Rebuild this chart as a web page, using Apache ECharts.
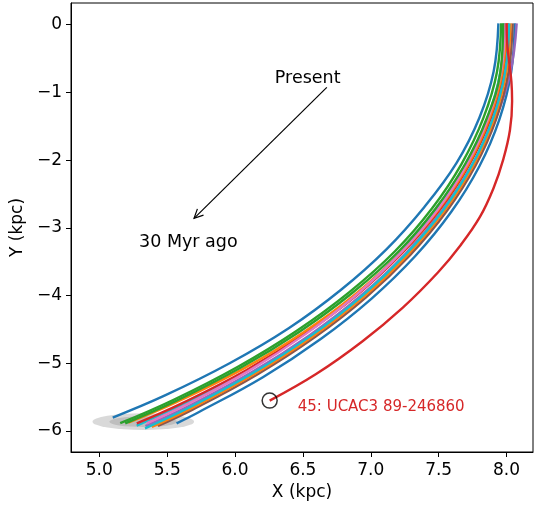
<!DOCTYPE html>
<html>
<head>
<meta charset="utf-8">
<script src="https://cdn.jsdelivr.net/npm/echarts@6/dist/echarts.min.js"></script>
<style>
  html, body { margin: 0; padding: 0; background: #ffffff; }
  #chart { width: 535px; height: 507px; }
</style>
</head>
<body>
<div id="chart"></div>
<script>
// Galactic orbits traced back 30 Myr, X/Y in kpc
const xTicks = [5.0, 5.5, 6.0, 6.5, 7.0, 7.5, 8.0];
const yTicks = [-6, -5, -4, -3, -2, -1, 0];

const orbitBlueUpper = [[7.940, 0.02], [7.905, -0.692], [7.800, -1.375], [7.631, -2.045], [7.395, -2.692], [7.115, -3.318], [6.781, -3.915], [6.398, -4.480], [5.960, -5.001], [5.480, -5.480], [5.099, -5.803]];
const orbitBlueLower = [[8.060, 0.02], [8.034, -0.703], [7.947, -1.401], [7.800, -2.090], [7.593, -2.764], [7.328, -3.417], [7.006, -4.045], [6.631, -4.643], [6.205, -5.207], [5.728, -5.728], [5.569, -5.889]];
const orbitPurple = [[8.075, 0.02], [8.029, -0.702], [7.918, -1.396], [7.747, -2.076], [7.527, -2.740], [7.255, -3.383], [6.928, -4.000], [6.549, -4.586], [6.121, -5.136], [5.646, -5.646], [5.340, -5.930]];
const orbitBrown = [[8.045, 0.02], [8.014, -0.701], [7.923, -1.397], [7.771, -2.082], [7.560, -2.752], [7.291, -3.400], [6.967, -4.023], [6.589, -4.614], [6.161, -5.170], [5.687, -5.687], [5.432, -5.928]];
const orbitCyanB = [[7.985, 0.02], [7.955, -0.696], [7.859, -1.386], [7.703, -2.064], [7.489, -2.726], [7.219, -3.366], [6.894, -3.980], [6.516, -4.563], [6.090, -5.110], [5.614, -5.614], [5.275, -5.921]];
const orbitOrangeB = [[8.030, 0.02], [7.999, -0.700], [7.908, -1.394], [7.756, -2.078], [7.544, -2.746], [7.275, -3.392], [6.951, -4.013], [6.574, -4.603], [6.146, -5.157], [5.672, -5.672], [5.387, -5.942]];
const orbitRedB = [[8.010, 0.02], [7.979, -0.698], [7.883, -1.390], [7.725, -2.070], [7.508, -2.733], [7.232, -3.372], [6.902, -3.985], [6.516, -4.563], [6.082, -5.104], [5.600, -5.600], [5.276, -5.888]];
const orbitCyan = [[8.020, 0.02], [7.989, -0.699], [7.898, -1.393], [7.745, -2.075], [7.532, -2.741], [7.261, -3.386], [6.937, -4.005], [6.560, -4.593], [6.132, -5.146], [5.659, -5.659], [5.337, -5.963]];
const orbitOrange = [[8.000, 0.02], [7.970, -0.697], [7.874, -1.388], [7.718, -2.068], [7.499, -2.729], [7.223, -3.368], [6.889, -3.978], [6.500, -4.551], [6.059, -5.084], [5.572, -5.572], [5.214, -5.879]];
const orbitPink = [[7.990, 0.02], [7.960, -0.696], [7.864, -1.387], [7.708, -2.065], [7.494, -2.728], [7.223, -3.368], [6.898, -3.983], [6.522, -4.567], [6.098, -5.117], [5.627, -5.627], [5.349, -5.888]];
const orbitGreenB = [[7.975, 0.02], [7.955, -0.696], [7.854, -1.385], [7.694, -2.061], [7.475, -2.721], [7.201, -3.358], [6.863, -3.963], [6.475, -4.534], [6.040, -5.068], [5.561, -5.561], [5.191, -5.888]];
const orbitGreen = [[7.960, 0.02], [7.930, -0.694], [7.829, -1.381], [7.669, -2.055], [7.452, -2.712], [7.178, -3.347], [6.842, -3.950], [6.455, -4.520], [6.021, -5.052], [5.544, -5.544], [5.154, -5.887]];

// Star 45, UCAC3 89-246860
const orbitStar45 = [[8.000, 0.02], [8.005, -0.280], [8.020, -0.561], [8.036, -0.845], [8.041, -1.130], [8.025, -1.560], [7.976, -1.989], [7.904, -2.416], [7.804, -2.840], [7.663, -3.253], [7.496, -3.656], [7.236, -4.178], [6.937, -4.679], [6.600, -5.156], [6.255, -5.553]];
const star45Name = '45: UCAC3 89-246860';

// Birth region: centre and two nested extents (x, y half-widths)
const birthCentre = [5.324, -5.864];
const birthExtents = [[0.374, 0.123], [0.250, 0.079]];

// Time-direction annotation
const arrowPresent = [6.676, -0.925];
const arrowPast = [5.698, -2.860];
const notePresent = { text: 'Present', at: [6.535, -0.792] };
const notePast = { text: '30 Myr ago', at: [5.656, -3.220] };
const star45LabelAt = [6.462, -5.643];

const FONT = 'DejaVu Sans';
const orbitStyle = (data, color) => ({
  type: 'line',
  data: data,
  smooth: 0.4,
  showSymbol: false,
  symbol: 'none',
  lineStyle: { color: color, width: 2.4 },
  z: 3,
  silent: true
});

const chart = echarts.init(document.getElementById('chart'), null, { renderer: 'canvas' });

chart.setOption({
  animation: false,
  backgroundColor: '#ffffff',
  grid: {
    left: 71, right: 2, top: 3, bottom: 55,
    show: true, borderColor: '#000000', borderWidth: 1, backgroundColor: 'transparent'
  },
  xAxis: {
    type: 'value', min: 4.7915, max: 8.195,
    name: 'X (kpc)', nameLocation: 'middle', nameGap: 32,
    nameTextStyle: { fontFamily: FONT, fontSize: 17, color: '#000' },
    axisLine: { show: true, onZero: false, lineStyle: { color: '#000', width: 1 } },
    axisTick: { show: true, inside: false, length: 5, customValues: xTicks, lineStyle: { color: '#000', width: 1 } },
    axisLabel: { customValues: xTicks, margin: 10, fontFamily: FONT, fontSize: 17, color: '#000',
      formatter: v => v.toFixed(1) },
    splitLine: { show: false }
  },
  yAxis: {
    type: 'value', min: -6.312, max: 0.3205,
    name: 'Y (kpc)', nameLocation: 'middle', nameGap: 43,
    nameTextStyle: { fontFamily: FONT, fontSize: 17, color: '#000' },
    axisLine: { show: true, onZero: false, lineStyle: { color: '#000', width: 1 } },
    axisTick: { show: true, inside: false, length: 5, customValues: yTicks, lineStyle: { color: '#000', width: 1 } },
    axisLabel: { customValues: yTicks, margin: 9, fontFamily: FONT, fontSize: 17, color: '#000',
      formatter: v => (v < 0 ? '\u2212' + Math.abs(v) : String(v)) },
    splitLine: { show: false }
  },
  series: [
    {
      // nested birth-region ellipses
      type: 'custom',
      data: birthExtents.map(e => [birthCentre[0], birthCentre[1], e[0], e[1]]),
      z: 1,
      silent: true,
      renderItem: function (params, api) {
        const c = api.coord([api.value(0), api.value(1)]);
        const s = api.size([api.value(2), api.value(3)]);
        return {
          type: 'circle',
          x: c[0], y: c[1],
          scaleX: 1, scaleY: s[1] / s[0],
          shape: { cx: 0, cy: 0, r: s[0] },
          style: { fill: 'rgba(128,128,128,0.3)' }
        };
      }
    },
    orbitStyle(orbitBlueUpper, '#1f77b4'),
    orbitStyle(orbitBlueLower, '#1f77b4'),
    orbitStyle(orbitPurple, '#9467bd'),
    orbitStyle(orbitBrown, '#8c564b'),
    orbitStyle(orbitCyanB, '#17becf'),
    orbitStyle(orbitOrangeB, '#ff7f0e'),
    orbitStyle(orbitRedB, '#d62728'),
    orbitStyle(orbitCyan, '#17becf'),
    orbitStyle(orbitOrange, '#ff7f0e'),
    orbitStyle(orbitPink, '#e377c2'),
    orbitStyle(orbitGreenB, '#2ca02c'),
    orbitStyle(orbitGreen, '#2ca02c'),
    orbitStyle(orbitStar45, '#d62728'),
    {
      // present-day marker of star 45
      type: 'scatter',
      data: [orbitStar45[orbitStar45.length - 1]],
      symbol: 'circle',
      symbolSize: 15,
      itemStyle: { color: 'rgba(0,0,0,0)', borderColor: '#000', borderWidth: 1.5 },
      z: 5,
      silent: true
    },
    {
      // arrow from "Present" toward "30 Myr ago"
      type: 'custom',
      data: [[arrowPresent[0], arrowPresent[1], arrowPast[0], arrowPast[1]]],
      z: 6,
      silent: true,
      renderItem: function (params, api) {
        const a = api.coord([api.value(0), api.value(1)]);
        const b = api.coord([api.value(2), api.value(3)]);
        const ang = Math.atan2(b[1] - a[1], b[0] - a[0]);
        const len = 10, spread = 0.45;
        const h1 = [b[0] - len * Math.cos(ang - spread), b[1] - len * Math.sin(ang - spread)];
        const h2 = [b[0] - len * Math.cos(ang + spread), b[1] - len * Math.sin(ang + spread)];
        return {
          type: 'group',
          children: [
            { type: 'line', shape: { x1: a[0], y1: a[1], x2: b[0], y2: b[1] },
              style: { stroke: '#000', lineWidth: 1.2 } },
            { type: 'polyline', shape: { points: [h1, b, h2] },
              style: { stroke: '#000', lineWidth: 1.2, fill: null } }
          ]
        };
      }
    },
    {
      // annotation texts
      type: 'custom',
      data: [
        [notePresent.at[0], notePresent.at[1], 0],
        [notePast.at[0], notePast.at[1], 1],
        [star45LabelAt[0], star45LabelAt[1], 2]
      ],
      z: 7,
      silent: true,
      renderItem: function (params, api) {
        const p = api.coord([api.value(0), api.value(1)]);
        const i = api.value(2);
        const texts = [notePresent.text, notePast.text, star45Name];
        const isLabel = i === 2;
        return {
          type: 'text',
          x: p[0], y: p[1],
          style: {
            text: texts[i],
            fontFamily: FONT,
            fontSize: isLabel ? 15 : 17.5,
            fill: isLabel ? '#d62728' : '#000',
            align: isLabel ? 'left' : 'center',
            verticalAlign: 'middle'
          }
        };
      }
    }
  ]
});
</script>
</body>
</html>
